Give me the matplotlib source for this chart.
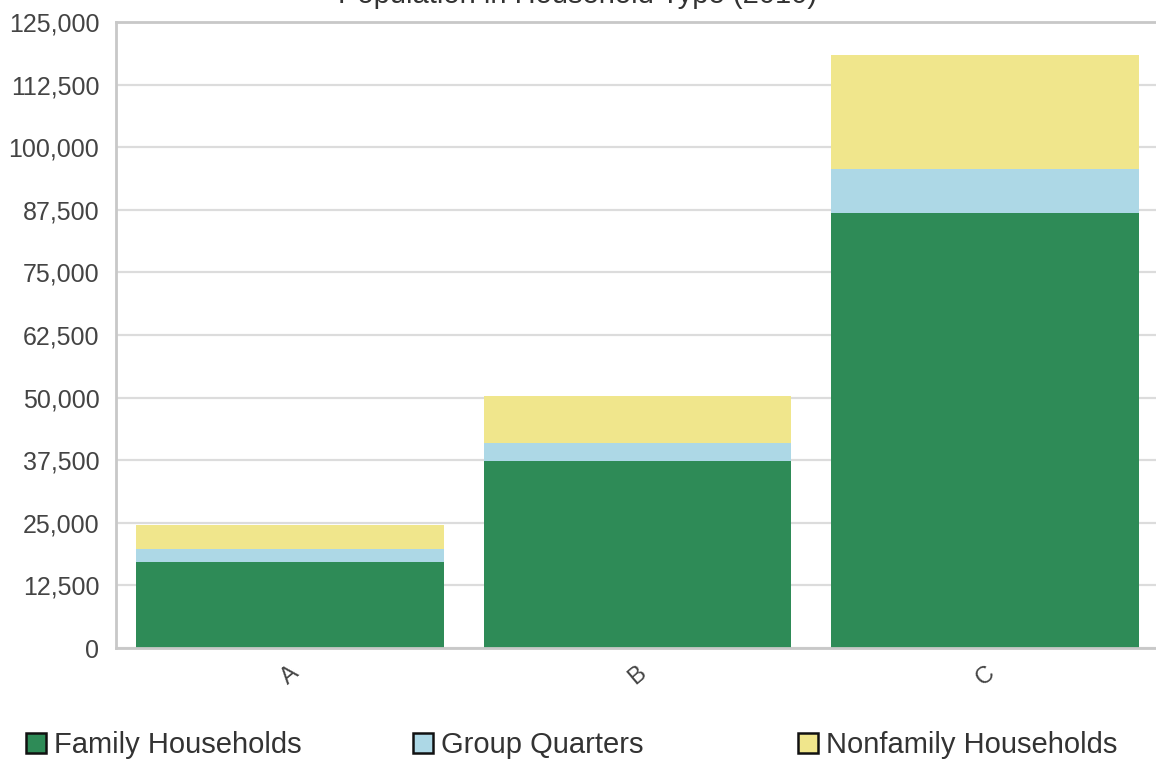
import matplotlib.pyplot as plt
import numpy as np
from matplotlib.patches import Patch
from matplotlib.ticker import FuncFormatter

plt.rcParams['font.family'] = ['Liberation Sans', 'DejaVu Sans']

# population by household type, 2010
places = ['A', 'B', 'C']
family = [17100, 37300, 86800]
group_quarters = [2600, 3600, 8800]
nonfamily = [4850, 9400, 22800]

series_names = ['Family Households', 'Group Quarters', 'Nonfamily Households']
colors = ['#2e8b57', '#add8e6', '#f0e68c']
yticks = np.arange(0, 125001, 12500)

fig = plt.figure(figsize=(11.56, 7.65), dpi=100)
ax = fig.add_axes([116/1156, 117/765, 1043/1156, 626/765])

x = np.arange(len(places))
w = 0.885
bottom = np.zeros(len(places))
for vals, c in zip([family, group_quarters, nonfamily], colors):
    ax.bar(x, vals, w, bottom=bottom, color=c, zorder=2)
    bottom = bottom + np.array(vals)

ax.set_xlim(-0.5, 2.5)
ax.set_ylim(0, 125000)
ax.set_yticks(yticks)
ax.yaxis.set_major_formatter(FuncFormatter(lambda v, p: '{:,}'.format(int(v))))
ax.set_xticks(x)
ax.set_xticklabels(places, rotation=40, ha='center')
ax.tick_params(axis='y', length=0, pad=12, labelsize=18, labelcolor='#444444')
ax.tick_params(axis='x', length=0, pad=10, labelsize=17, labelcolor='#444444')
ax.grid(axis='y', color='#dcdcdc', linewidth=1.6, zorder=0)

for s in ['left', 'bottom', 'top']:
    ax.spines[s].set_color('#c8c8c8')
    ax.spines[s].set_linewidth(2)
ax.spines['right'].set_visible(False)

fig.text(0.5, 1 - 3/765, 'Population in Household Type (2010)', ha='center',
         va='baseline', fontsize=21, color='#333333')

# one legend entry per column, spread along the bottom
starts = [26, 413, 798]
for name, c, sx in zip(series_names, colors, starts):
    fig.legend(handles=[Patch(facecolor=c, edgecolor='#111111', linewidth=1.8)],
               labels=[name], loc='center left',
               bbox_to_anchor=(sx/1156, 1 - 745/765), frameon=False,
               fontsize=21, handlelength=0.7, handleheight=0.7,
               handletextpad=0.25, borderpad=0, borderaxespad=0,
               labelcolor='#333333')

plt.savefig('out.png', dpi=100)
